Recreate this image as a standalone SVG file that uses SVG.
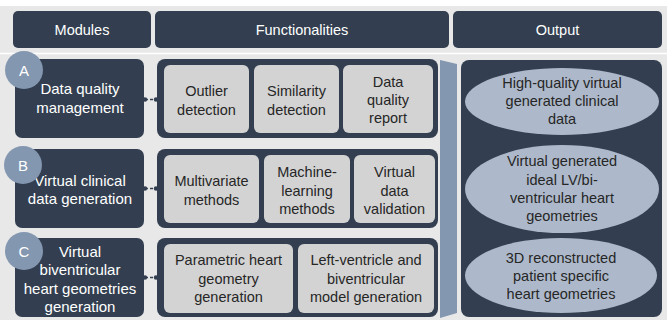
<svg xmlns="http://www.w3.org/2000/svg" width="667" height="320" viewBox="0 0 667 320">
<style>
text{font-family:"Liberation Sans",Arial,sans-serif;text-anchor:middle}
.dark{fill:#333f50}
.inner{fill:#d3d3d3}
.wt{fill:#ffffff;font-size:14.5px}
.mt{fill:#ffffff;font-size:15px}
.bt{fill:#262626;font-size:14.5px}
.circ{fill:#8497b0}
.ell{fill:#adb9ca}
.ct{fill:#ffffff;font-size:15px}
.conn{stroke:#333f50;stroke-width:1.5;stroke-dasharray:3,2;fill:none}
.dot{fill:#333f50}
</style>
<rect x="0" y="6" width="667" height="314" fill="#e8e8e8"/>
<line x1="0" y1="53.5" x2="667" y2="53.5" stroke="#ffffff" stroke-width="1.5"/>

<g id="header-modules"><rect class="dark" x="13" y="11" width="138" height="37" rx="5"/><text class="wt" x="82" y="35">Modules</text></g>
<g id="header-functionalities"><rect class="dark" x="155" y="11" width="294" height="37" rx="5"/><text class="wt" x="302" y="35">Functionalities</text></g>
<g id="header-output"><rect class="dark" x="453" y="11" width="209" height="37" rx="5"/><text class="wt" x="557.5" y="35">Output</text></g>

<g id="module-a"><rect class="dark" x="15" y="59" width="129" height="79" rx="7"/><text class="mt" x="80" y="94">Data quality</text><text class="mt" x="80" y="113">management</text>
<circle class="circ" cx="24" cy="70" r="19"/><text class="ct" x="24" y="75.5">A</text></g>
<g id="module-b"><rect class="dark" x="15" y="149" width="129" height="79" rx="7"/><text class="mt" x="80" y="186">Virtual clinical</text><text class="mt" x="80" y="204">data generation</text>
<circle class="circ" cx="23" cy="165" r="19"/><text class="ct" x="23" y="170.5">B</text></g>
<g id="module-c"><rect class="dark" x="15" y="238" width="129" height="79" rx="7"/><text class="mt" x="80" y="257">Virtual</text><text class="mt" x="80" y="275">biventricular</text><text class="mt" x="80" y="293.5">heart geometries</text><text class="mt" x="80" y="312">generation</text>
<circle class="circ" cx="24" cy="251" r="19"/><text class="ct" x="24" y="256.5">C</text></g>

<g id="connectors">
<line class="conn" x1="145" y1="99.5" x2="156" y2="99.5"/><circle class="dot" cx="145" cy="99.5" r="2.2"/><circle class="dot" cx="156" cy="99.5" r="2.2"/>
<line class="conn" x1="145" y1="188.5" x2="156" y2="188.5"/><circle class="dot" cx="145" cy="188.5" r="2.2"/><circle class="dot" cx="156" cy="188.5" r="2.2"/>
<line class="conn" x1="145" y1="277.5" x2="156" y2="277.5"/><circle class="dot" cx="145" cy="277.5" r="2.2"/><circle class="dot" cx="156" cy="277.5" r="2.2"/>
</g>

<g id="func-a"><rect class="dark" x="157" y="59" width="281" height="79" rx="8"/>
<rect class="inner" x="164" y="65" width="85" height="68" rx="6"/><text class="bt" x="206.5" y="96">Outlier</text><text class="bt" x="206.5" y="114.5">detection</text>
<rect class="inner" x="254" y="65" width="85" height="68" rx="6"/><text class="bt" x="296.5" y="96">Similarity</text><text class="bt" x="296.5" y="114.5">detection</text>
<rect class="inner" x="343" y="65" width="90" height="68" rx="6"/><text class="bt" x="388" y="87">Data</text><text class="bt" x="388" y="105">quality</text><text class="bt" x="388" y="123">report</text>
</g>
<g id="func-b"><rect class="dark" x="157" y="149" width="281" height="79" rx="8"/>
<rect class="inner" x="164" y="155" width="95" height="68" rx="6"/><text class="bt" x="211.5" y="186">Multivariate</text><text class="bt" x="211.5" y="204.5">methods</text>
<rect class="inner" x="264" y="155" width="86" height="68" rx="6"/><text class="bt" x="307" y="177">Machine-</text><text class="bt" x="307" y="195.5">learning</text><text class="bt" x="307" y="214">methods</text>
<rect class="inner" x="354" y="155" width="81" height="68" rx="6"/><text class="bt" x="394.5" y="177">Virtual</text><text class="bt" x="394.5" y="195.5">data</text><text class="bt" x="394.5" y="214">validation</text>
</g>
<g id="func-c"><rect class="dark" x="157" y="238" width="281" height="79" rx="8"/>
<rect class="inner" x="164" y="244" width="129" height="69" rx="6"/><text class="bt" x="228.5" y="265">Parametric heart</text><text class="bt" x="228.5" y="283.5">geometry</text><text class="bt" x="228.5" y="302">generation</text>
<rect class="inner" x="298" y="244" width="136" height="69" rx="6"/><text class="bt" x="366" y="265">Left-ventricle and</text><text class="bt" x="366" y="283.5">biventricular</text><text class="bt" x="366" y="302">model generation</text>
</g>

<g id="arrow"><polygon points="440,60 457,64 457,313 440,318" fill="#8497b0"/></g>

<g id="output"><rect class="dark" x="461" y="60" width="201" height="257" rx="8"/>
<ellipse class="ell" cx="562" cy="101.5" rx="97" ry="33.5"/><text class="bt" x="562" y="88">High-quality virtual</text><text class="bt" x="562" y="106">generated clinical</text><text class="bt" x="562" y="124">data</text>
<ellipse class="ell" cx="562" cy="189" rx="97" ry="44"/><text class="bt" x="562" y="166">Virtual generated</text><text class="bt" x="562" y="184.5">ideal LV/bi-</text><text class="bt" x="562" y="203">ventricular heart</text><text class="bt" x="562" y="221">geometries</text>
<ellipse class="ell" cx="561" cy="275.5" rx="96" ry="37.5"/><text class="bt" x="561" y="263">3D reconstructed</text><text class="bt" x="561" y="281">patient specific</text><text class="bt" x="561" y="299">heart geometries</text>
</g>
</svg>
